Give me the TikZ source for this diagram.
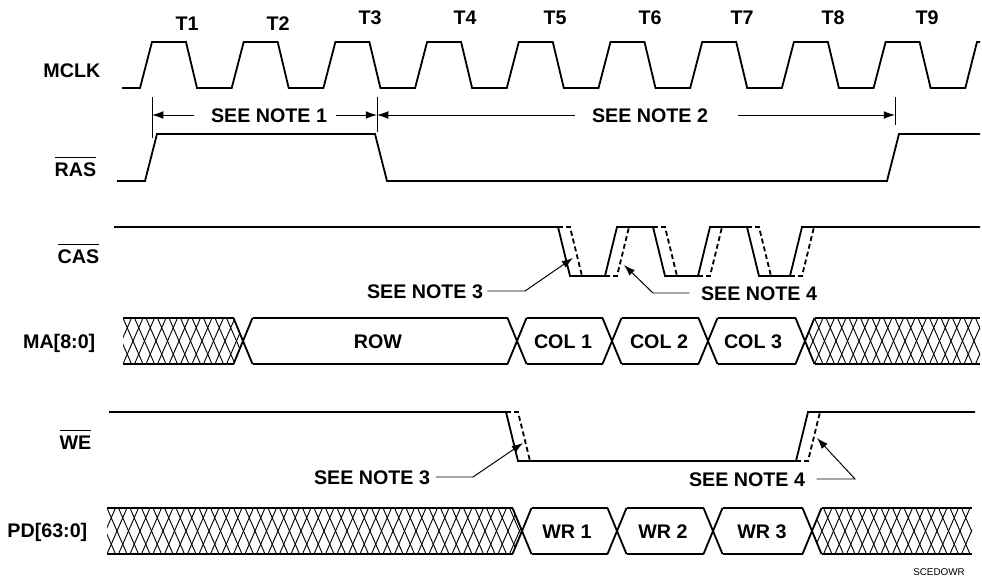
\documentclass[tikz,border=0pt]{standalone}
\usepackage{fontspec}
\setmainfont{Liberation Sans}
\usepackage{tikz}
\usetikzlibrary{arrows.meta}

\tikzset{
  sig/.style={line width=1.3pt, line join=miter},
  alt/.style={line width=1.3pt, dash pattern=on 3.5pt off 2.2pt},
  hatch/.style={line width=0.65pt},
  thinline/.style={line width=0.7pt},
  lbl/.style={font=\fontsize{14}{16}\selectfont\bfseries, inner sep=1pt,
    text height=10pt, text depth=0pt},
  note/.style={lbl},
  leader/.style={line width=0.7pt, -{Latex[length=8pt,width=5.5pt]}},
  dimarrow/.style={line width=0.7pt, -{Latex[length=8pt,width=5.5pt]}},
}

\begin{document}
\begin{tikzpicture}[x=0.025cm, y=-0.025cm]
  \useasboundingbox (0,0) rectangle (982,578);

  % signal names
  \node[lbl, anchor=east] (mclk) at (102,70) {MCLK};
  \node[lbl, anchor=east] (ras) at (98,169) {$\overline{\mbox{RAS\rule{0pt}{0.86em}}}$};
  \node[lbl, anchor=east] (cas) at (101,256) {$\overline{\mbox{CAS\rule{0pt}{0.86em}}}$};
  \node[lbl, anchor=east] (ma) at (97,341) {MA[8:0]};
  \node[lbl, anchor=east] (we) at (93,442) {$\overline{\mbox{WE\rule{0pt}{0.86em}}}$};
  \node[lbl, anchor=east] (pd) at (89,530) {PD[63:0]};

  % clock
  \foreach \n/\x/\y in {1/187/23, 2/278/23, 3/370/17, 4/465/17, 5/555/17,
      6/650/17, 7/742/17, 8/833/17, 9/927/17}
    \node[lbl] (t\n) at (\x,\y) {T\n};
  \draw[sig] (122,88) -- (140,88)
    \foreach \i in {0,...,8} {
      -- ({140+91.7*\i+12},42) -- ({140+91.7*\i+46},42)
      -- ({140+91.7*\i+57},88) -- ({140+91.7*(\i+1)},88) }
    -- (977,42) -- (980,42);

  % RAS and its notes
  \coordinate (tA) at (152,97);
  \coordinate (tB) at (377,97);
  \coordinate (tC) at (895,97);
  \draw[thinline] (tA) -- ++(0,41);
  \draw[thinline] (tB) -- ++(0,35);
  \draw[thinline] (tC) -- ++(0,28);
  \node[note] (n1) at (269,115) {SEE NOTE 1};
  \node[note] (n2) at (650,115) {SEE NOTE 2};
  \draw[dimarrow] ([xshift=-11pt]n1.west) -- (tA |- n1);
  \draw[dimarrow] ([xshift=5pt]n1.east) -- (tB |- n1);
  \draw[dimarrow] ([xshift=-11pt]n2.west) -- (tB |- n2);
  \draw[dimarrow] ([xshift=20pt]n2.east) -- (tC |- n2);
  \draw[sig] (117,181) -- (145,181) -- (157,134) -- (375,134) -- (387,181)
    -- (887,181) -- (899,134) -- (980,134);

  % CAS
  \draw[sig] (114,227) -- (558,227) -- (570,276) -- (605,276) -- (617,227)
    -- (653,227) -- (665,276) -- (698,276) -- (710,227) -- (747,227)
    -- (759,276) -- (790,276) -- (802,227) -- (980,227);
  \foreach \f in {558,653,747}
    \draw[alt] (\f,227) -- ++(12,0) -- ++(12,49);
  \foreach \r in {605,698,790}
    \draw[alt] (\r,276) -- ++(12,0) -- ++(12,-49);
  \node[note] (n3a) at (425,291) {SEE NOTE 3};
  \coordinate (k3a) at (525,291);
  \coordinate (e3a) at (573,258);
  \draw[leader] ([xshift=2pt]n3a.east) -- (k3a) -- (e3a);
  \node[note] (n4a) at (759,293) {SEE NOTE 4};
  \coordinate (k4a) at (653,293);
  \coordinate (e4a) at (624,265);
  \draw[leader] ([xshift=-7pt]n4a.west) -- (k4a) -- (e4a);

  % MA bus
  \begin{scope}
    \clip (123,318) -- (233.5,318) -- (243,341) -- (233.5,364) -- (123,364) -- cycle;
    \foreach \x in {100,111.5,...,265}
      \draw[hatch] (\x,318) -- ++(20,46) (\x+8.5,318) -- ++(-20,46);
  \end{scope}
  \begin{scope}
    \clip (805,341) -- (814.5,318) -- (980,318) -- (980,364) -- (814.5,364) -- cycle;
    \foreach \x in {780,791.5,...,1000}
      \draw[hatch] (\x,318) -- ++(20,46) (\x+8.5,318) -- ++(-20,46);
  \end{scope}
  \draw[sig] (123,318) -- (233.5,318) (123,364) -- (233.5,364);
  \draw[sig] (814.5,318) -- (980,318) (814.5,364) -- (980,364);
  \foreach \c in {243,517,612,708,805}
    \draw[sig] (\c-9.5,318) -- (\c+9.5,364) (\c-9.5,364) -- (\c+9.5,318);
  \foreach \a/\b in {243/517, 517/612, 612/708, 708/805}
    \draw[sig] (\a+9.5,318) -- (\b-9.5,318) (\a+9.5,364) -- (\b-9.5,364);
  \node[lbl] (row) at (378,341) {ROW};
  \node[lbl] (col1) at (563,341) {COL 1};
  \node[lbl] (col2) at (659,341) {COL 2};
  \node[lbl] (col3) at (753,341) {COL 3};

  % WE
  \draw[sig] (109,412) -- (506,412) -- (518,461) -- (796,461) -- (808,412) -- (975,412);
  \draw[alt] (506,412) -- ++(12,0) -- ++(12,49);
  \draw[alt] (796,461) -- ++(12,0) -- ++(12,-49);
  \node[note] (n3b) at (372,477) {SEE NOTE 3};
  \coordinate (k3b) at (473,477);
  \coordinate (e3b) at (523,443);
  \draw[leader] ([xshift=3pt]n3b.east) -- (k3b) -- (e3b);
  \node[note] (n4b) at (747,479) {SEE NOTE 4};
  \coordinate (k4b) at (855,479);
  \coordinate (e4b) at (817,438);
  \draw[leader] ([xshift=7pt]n4b.east) -- (k4b) -- (e4b);

  % PD bus
  \begin{scope}
    \clip (107,508) -- (512.5,508) -- (522,531) -- (512.5,554) -- (107,554) -- cycle;
    \foreach \x in {84,95.5,...,545}
      \draw[hatch] (\x,508) -- ++(20,46) (\x+8.5,508) -- ++(-20,46);
  \end{scope}
  \begin{scope}
    \clip (812,531) -- (821.5,508) -- (972,508) -- (972,554) -- (821.5,554) -- cycle;
    \foreach \x in {789,800.5,...,995}
      \draw[hatch] (\x,508) -- ++(20,46) (\x+8.5,508) -- ++(-20,46);
  \end{scope}
  \draw[sig] (107,508) -- (512.5,508) (107,554) -- (512.5,554);
  \draw[sig] (821.5,508) -- (972,508) (821.5,554) -- (972,554);
  \foreach \c in {522,617,713,812}
    \draw[sig] (\c-9.5,508) -- (\c+9.5,554) (\c-9.5,554) -- (\c+9.5,508);
  \foreach \a/\b in {522/617, 617/713, 713/812}
    \draw[sig] (\a+9.5,508) -- (\b-9.5,508) (\a+9.5,554) -- (\b-9.5,554);
  \node[lbl] (wr1) at (567,531) {WR 1};
  \node[lbl] (wr2) at (663,531) {WR 2};
  \node[lbl] (wr3) at (762,531) {WR 3};

  \node[font=\fontsize{7}{8}\selectfont] (code) at (939,572) {SCEDOWR};
\end{tikzpicture}
\end{document}
